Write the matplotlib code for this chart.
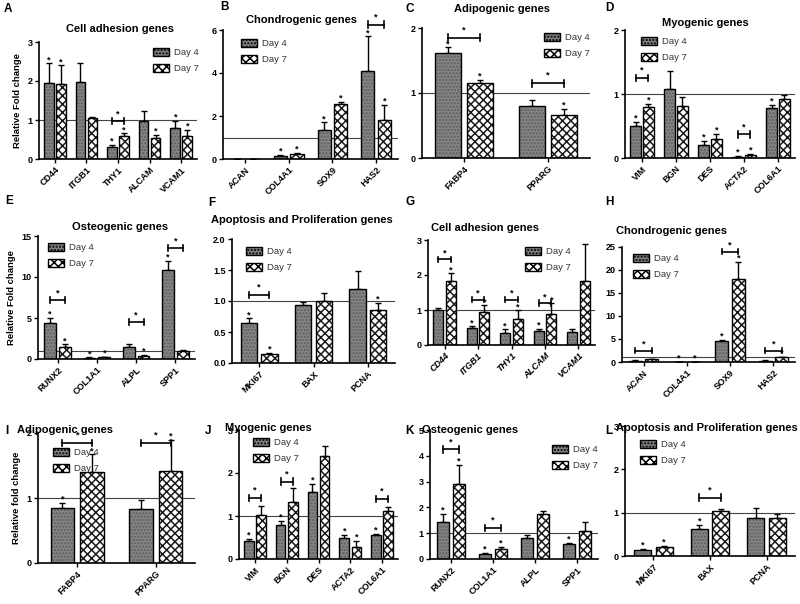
import matplotlib
matplotlib.use('Agg')
import matplotlib.pyplot as plt
from matplotlib.patches import Patch
import numpy as np

plt.rcParams['font.family'] = ['Liberation Sans', 'DejaVu Sans']
plt.rcParams['hatch.linewidth'] = 1.1

# ---------------- data ----------------
A_genes = ['CD44', 'ITGB1', 'THY1', 'ALCAM', 'VCAM1']
A_d4 = [1.95, 1.97, 0.30, 0.98, 0.80]
A_d4_err = [0.50, 0.50, 0.06, 0.25, 0.18]
A_d7 = [1.93, 1.05, 0.60, 0.55, 0.60]
A_d7_err = [0.47, 0.02, 0.06, 0.07, 0.15]
A_star4 = [1, 0, 1, 0, 1]
A_star7 = [1, 0, 1, 1, 1]
A_bracket = [None, None, 0.97, None, None]

B_genes = ['ACAN', 'COL4A1', 'SOX9', 'HAS2']
B_d4 = [0.0, 0.15, 1.35, 4.10]
B_d4_err = [0.0, 0.03, 0.35, 1.60]
B_d7 = [0.0, 0.25, 2.55, 1.80]
B_d7_err = [0.0, 0.04, 0.12, 0.70]
B_star4 = [0, 1, 1, 1]
B_star7 = [0, 1, 1, 1]
B_bracket = [None, None, None, 6.25]

C_genes = ['FABP4', 'PPARG']
C_d4 = [1.62, 0.80]
C_d4_err = [0.08, 0.10]
C_d7 = [1.15, 0.66]
C_d7_err = [0.05, 0.09]
C_star4 = [1, 0]
C_star7 = [1, 1]
C_bracket = [1.85, 1.15]

D_genes = ['VIM', 'BGN', 'DES', 'ACTA2', 'COL6A1']
D_d4 = [0.50, 1.08, 0.21, 0.02, 0.78]
D_d4_err = [0.06, 0.28, 0.05, 0.01, 0.05]
D_d7 = [0.79, 0.82, 0.30, 0.05, 0.92]
D_d7_err = [0.05, 0.13, 0.07, 0.02, 0.06]
D_star4 = [1, 0, 1, 1, 1]
D_star7 = [1, 0, 1, 1, 0]
D_bracket = [1.25, None, None, 0.37, None]

E_genes = ['RUNX2', 'COL1A1', 'ALPL', 'SPP1']
E_d4 = [4.4, 0.15, 1.5, 10.9]
E_d4_err = [0.6, 0.05, 0.35, 1.1]
E_d7 = [1.5, 0.20, 0.4, 1.0]
E_d7_err = [0.3, 0.05, 0.1, 0.1]
E_star4 = [1, 1, 0, 1]
E_star7 = [1, 1, 1, 0]
E_bracket = [7.2, None, 4.5, 13.5]

F_genes = ['MKI67', 'BAX', 'PCNA']
F_d4 = [0.65, 0.93, 1.20]
F_d4_err = [0.07, 0.05, 0.28]
F_d7 = [0.15, 1.00, 0.85]
F_d7_err = [0.01, 0.13, 0.12]
F_star4 = [1, 0, 0]
F_star7 = [1, 0, 1]
F_bracket = [1.1, None, None]

G_genes = ['CD44', 'ITGB1', 'THY1', 'ALCAM', 'VCAM1']
G_d4 = [1.00, 0.48, 0.35, 0.40, 0.38]
G_d4_err = [0.05, 0.06, 0.10, 0.07, 0.07]
G_d7 = [1.82, 0.95, 0.75, 0.90, 1.82]
G_d7_err = [0.23, 0.20, 0.25, 0.30, 1.08]
G_star4 = [0, 1, 1, 1, 0]
G_star7 = [1, 1, 1, 1, 0]
G_bracket = [2.45, 1.3, 1.3, 1.2, None]

H_genes = ['ACAN', 'COL4A1', 'SOX9', 'HAS2']
H_d4 = [0.3, 0.05, 4.5, 0.3]
H_d4_err = [0.05, 0.01, 0.3, 0.05]
H_d7 = [0.6, 0.05, 18.0, 1.0]
H_d7_err = [0.1, 0.01, 3.8, 0.15]
H_star4 = [0, 1, 1, 0]
H_star7 = [0, 1, 1, 1]
H_bracket = [2.5, None, 24.0, 2.5]

I_genes = ['FABP4', 'PPARG']
I_d4 = [0.85, 0.83]
I_d4_err = [0.07, 0.14]
I_d7 = [1.40, 1.42]
I_d7_err = [0.27, 0.48]
I_star4 = [1, 0]
I_star7 = [1, 1]
I_bracket = [1.85, 1.85]

J_genes = ['VIM', 'BGN', 'DES', 'ACTA2', 'COL6A1']
J_d4 = [0.42, 0.80, 1.55, 0.50, 0.55]
J_d4_err = [0.04, 0.08, 0.20, 0.05, 0.04]
J_d7 = [1.02, 1.32, 2.40, 0.27, 1.12]
J_d7_err = [0.22, 0.32, 0.22, 0.15, 0.08]
J_star4 = [1, 1, 1, 1, 1]
J_star7 = [0, 0, 0, 1, 0]
J_bracket = [1.42, 1.8, None, None, 1.4]

K_genes = ['RUNX2', 'COL1A1', 'ALPL', 'SPP1']
K_d4 = [1.45, 0.18, 0.82, 0.58]
K_d4_err = [0.30, 0.04, 0.12, 0.05]
K_d7 = [2.90, 0.40, 1.75, 1.10]
K_d7_err = [0.75, 0.06, 0.10, 0.35]
K_star4 = [1, 1, 0, 1]
K_star7 = [1, 1, 0, 0]
K_bracket = [4.25, 1.2, None, None]

L_genes = ['MKI67', 'BAX', 'PCNA']
L_d4 = [0.15, 0.63, 0.88]
L_d4_err = [0.02, 0.09, 0.22]
L_d7 = [0.20, 1.03, 0.87]
L_d7_err = [0.03, 0.05, 0.10]
L_star4 = [1, 1, 0]
L_star7 = [1, 0, 0]
L_bracket = [None, 1.35, None]

# ---------------- drawing ----------------
W, H = 800, 604
fig = plt.figure(figsize=(8, 6.04), dpi=100)

C4_FACE, C4_HATCH, C4_PAT = '#858585', '#5e5e5e', '.....'
C7_FACE, C7_HATCH, C7_PAT = '#ffffff', '#1a1a1a', 'xxxx'


def px_axes(left, right, top, bottom):
    return fig.add_axes([left / W, 1 - bottom / H, (right - left) / W, (bottom - top) / H])


def draw_bars(ax, x, vals, errs, face, hatch_col, hatch):
    ax.errorbar(x, vals, yerr=[np.zeros(len(vals)), errs], fmt='none', ecolor='black',
                elinewidth=1.0, capsize=2.5, capthick=1.0, zorder=1)
    ax.bar(x, vals, 0.30, color=face, hatch=hatch, edgecolor=hatch_col, linewidth=0, zorder=2)
    ax.bar(x, vals, 0.30, fill=False, edgecolor='black', linewidth=1.0, zorder=3)


def panel(letter, letter_xy, title, title_xy, box, genes, d4, d4e, d7, d7e, s4, s7, br,
          yticks, yfmt, legend_xy, ylabel=None, italic=False):
    ax = px_axes(*box)
    n = len(genes)
    x = np.arange(n)
    off = 0.19
    ymax = yticks[-1]
    draw_bars(ax, x - off, d4, d4e, C4_FACE, C4_HATCH, C4_PAT)
    draw_bars(ax, x + off, d7, d7e, C7_FACE, C7_HATCH, C7_PAT)
    ax.axhline(1, color='#444444', lw=0.8, zorder=0)
    pad = 0.03 * ymax
    for i in range(n):
        if s4[i]:
            ax.text(x[i] - off, d4[i] + d4e[i] + pad, '*', ha='center', va='center',
                    fontsize=6.5, fontweight='bold', clip_on=False)
        if s7[i]:
            ax.text(x[i] + off, d7[i] + d7e[i] + pad, '*', ha='center', va='center',
                    fontsize=6.5, fontweight='bold', clip_on=False)
        if br[i] is not None:
            b = br[i]
            h = 0.025 * ymax
            ax.plot([x[i] - off, x[i] + off], [b, b], color='black', lw=1.2, clip_on=False)
            ax.plot([x[i] - off, x[i] - off], [b - h, b + h], color='black', lw=1.2, clip_on=False)
            ax.plot([x[i] + off, x[i] + off], [b - h, b + h], color='black', lw=1.2, clip_on=False)
            ax.text(x[i], b + 0.06 * ymax, '*', ha='center', va='center',
                    fontsize=6.5, fontweight='bold', clip_on=False)
    ax.set_xlim(-0.5, n - 0.5)
    ax.set_ylim(0, ymax)
    ax.set_yticks(yticks)
    ax.set_yticklabels([yfmt.format(t) for t in yticks], fontsize=6.5, fontweight='bold')
    ax.set_xticks(x)
    ax.set_xticklabels(genes, rotation=45, ha='right', rotation_mode='anchor',
                       fontsize=6.5, fontweight='bold', style='italic' if italic else 'normal')
    for s in ['top', 'right']:
        ax.spines[s].set_visible(False)
    for s in ['left', 'bottom']:
        ax.spines[s].set_linewidth(1.2)
    ax.tick_params(axis='both', length=3, width=1, pad=1.5)
    if ylabel:
        ax.set_ylabel(ylabel, fontsize=6.8, fontweight='bold', labelpad=4)
    handles = [Patch(facecolor=C4_FACE, edgecolor='black', hatch=C4_PAT, label='Day 4'),
               Patch(facecolor=C7_FACE, edgecolor='black', hatch=C7_PAT, label='Day 7')]
    leg = ax.legend(handles=handles, loc='upper left',
                    bbox_to_anchor=(legend_xy[0] / W, 1 - legend_xy[1] / H),
                    bbox_transform=fig.transFigure, frameon=False, fontsize=6.8,
                    handlelength=1.7, handleheight=0.9, borderpad=0, labelspacing=0.75,
                    handletextpad=0.6)
    for t in leg.get_texts():
        t.set_color('#333333')
    fig.text(letter_xy[0] / W, 1 - letter_xy[1] / H, letter, fontsize=8.5, fontweight='bold',
             ha='left', va='center')
    fig.text(title_xy[0] / W, 1 - title_xy[1] / H, title, fontsize=8, fontweight='bold',
             ha='center', va='center')
    return ax


panel('A', (4, 9), 'Cell adhesion genes', (120, 29), (39, 197, 42, 159),
      A_genes, A_d4, A_d4_err, A_d7, A_d7_err, A_star4, A_star7, A_bracket,
      [0, 1, 2, 3], '{:g}', (148, 43), ylabel='Relative Fold change')
panel('B', (220, 7), 'Chondrogenic genes', (301, 20), (223, 398, 30, 159),
      B_genes, B_d4, B_d4_err, B_d7, B_d7_err, B_star4, B_star7, B_bracket,
      [0, 2, 4, 6], '{:g}', (236, 34))
panel('C', (405, 9), 'Adipogenic genes', (502, 9), (422, 590, 28, 158),
      C_genes, C_d4, C_d4_err, C_d7, C_d7_err, C_star4, C_star7, C_bracket,
      [0, 1, 2], '{:g}', (539, 28))
panel('D', (605, 8), 'Myogenic genes', (705, 23), (625, 795, 30, 158),
      D_genes, D_d4, D_d4_err, D_d7, D_d7_err, D_star4, D_star7, D_bracket,
      [0, 1, 2], '{:g}', (636, 32))
panel('E', (5, 201), 'Osteogenic genes', (120, 227), (38, 195, 236, 359),
      E_genes, E_d4, E_d4_err, E_d7, E_d7_err, E_star4, E_star7, E_bracket,
      [0, 5, 10, 15], '{:g}', (43, 238), ylabel='Relative Fold change')
panel('F', (208, 203), 'Apoptosis and Proliferation genes', (302, 220), (232, 395, 239, 363),
      F_genes, F_d4, F_d4_err, F_d7, F_d7_err, F_star4, F_star7, F_bracket,
      [0.0, 0.5, 1.0, 1.5, 2.0], '{:.1f}', (241, 242))
panel('G', (405, 202), 'Cell adhesion genes', (485, 228), (428, 595, 240, 345),
      G_genes, G_d4, G_d4_err, G_d7, G_d7_err, G_star4, G_star7, G_bracket,
      [0, 1, 2, 3], '{:g}', (520, 242), italic=True)
panel('H', (605, 202), 'Chondrogenic genes', (672, 231), (622, 795, 247, 362),
      H_genes, H_d4, H_d4_err, H_d7, H_d7_err, H_star4, H_star7, H_bracket,
      [0, 5, 10, 15, 20, 25], '{:g}', (628, 249))
panel('I', (5, 431), 'Adipogenic genes', (65, 430), (38, 195, 433, 563),
      I_genes, I_d4, I_d4_err, I_d7, I_d7_err, I_star4, I_star7, I_bracket,
      [0, 1, 2], '{:g}', (48, 443), ylabel='Relative fold change')
panel('J', (205, 431), 'Myogenic genes', (268, 428), (239, 398, 430, 559),
      J_genes, J_d4, J_d4_err, J_d7, J_d7_err, J_star4, J_star7, J_bracket,
      [0, 1, 2, 3], '{:g}', (248, 433))
panel('K', (405, 431), 'Osteogenic genes', (470, 430), (430, 598, 430, 559),
      K_genes, K_d4, K_d4_err, K_d7, K_d7_err, K_star4, K_star7, K_bracket,
      [0, 1, 2, 3, 4, 5], '{:g}', (547, 440))
panel('L', (605, 431), 'Apoptosis and Proliferation genes', (707, 428), (625, 795, 426, 556),
      L_genes, L_d4, L_d4_err, L_d7, L_d7_err, L_star4, L_star7, L_bracket,
      [0, 1, 2, 3], '{:g}', (635, 435))

fig.savefig('out.png', dpi=100)
